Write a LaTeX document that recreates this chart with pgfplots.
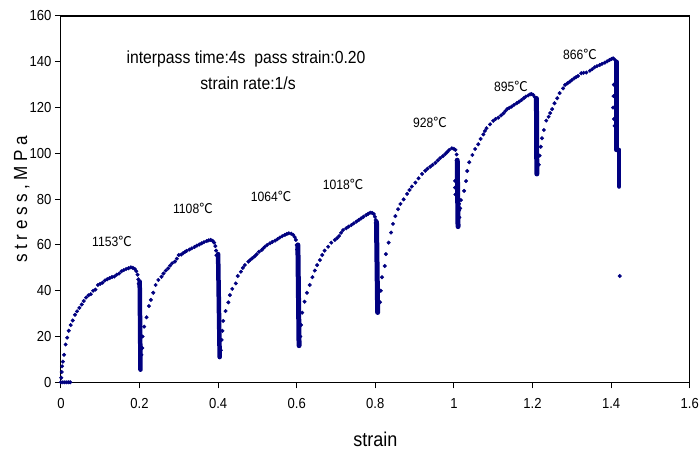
\documentclass[border=0pt]{standalone}
\usepackage{fontspec}
\setmainfont{Liberation Sans}[FakeStretch=0.9]
\newfontfamily\cjk{Noto Sans CJK SC}
\usepackage{pgfplots}
\pgfplotsset{compat=1.18}
\definecolor{navy}{RGB}{0,0,128}
\newcommand{\cel}{{\cjk ℃}}
\begin{document}
\begin{tikzpicture}
\useasboundingbox (-60.9pt,-69.7pt) rectangle (638.1pt,382.3pt);
\begin{axis}[
    scale only axis,
    width=628.8pt, height=366.3pt,
    xmin=0, xmax=1.6, ymin=0, ymax=160,
    xtick={0,0.2,...,1.6}, ytick={0,20,...,160},
    xtick pos=bottom, ytick pos=left,
    tick align=outside,
    major tick length=6pt,
    axis line style={black, line width=1.2pt},
    tick style={black, line width=1pt},
    /pgf/number format/assume math mode=true,
    ticklabel style={font=\fontsize{14.5}{16}\selectfont},
    xticklabel style={yshift=-7pt},
    xlabel={strain},
    ylabel={stress,MPa},
    every axis x label/.style={at={(axis description cs:0.5,-0.155)}, anchor=center,
        font=\fontsize{20}{22}\selectfont},
    every axis y label/.style={at={(axis description cs:-0.062,0.5)}, anchor=center, rotate=90,
        font=\fontsize{19}{22}\selectfont\addfontfeatures{LetterSpace=24}},
]

% pass 1
\addplot[only marks, mark=*, mark size=1.8pt, navy] coordinates {
(0,0) (0.005,0) (0.01,0) (0.015,0) (0.02,0) (0.024,0)
(0.001,2) (0.002,4.5) (0.003,7) (0.005,9) (0.008,12) (0.012,16.5) (0.016,19.5)
(0.02,22.5) (0.025,25) (0.03,27) (0.036,29.5) (0.041,31) (0.047,32.5) (0.053,34)
(0.058,35.5) (0.064,37) (0.07,38) (0.076,38.5) (0.082,40) (0.088,40.5) (0.094,42.5)
(0.1,43) (0.106,43.5) (0.112,44.5) (0.118,45) (0.124,45.5) (0.13,46) (0.136,46.2)
(0.142,47) (0.148,47.5) (0.154,48.5) (0.16,49) (0.166,49.5) (0.172,49.8) (0.178,50.2)
(0.183,50) (0.188,49.5) (0.192,48.5) (0.195,47) (0.197,45) (0.198,43)
};
% pass 2
\addplot[only marks, mark=*, mark size=1.8pt, navy] coordinates {
(0.205,12) (0.207,15) (0.208,20) (0.212,24.3) (0.218,28.4) (0.224,33.3) (0.229,36)
(0.235,39.1) (0.241,42.5) (0.248,44.7) (0.256,46.1) (0.261,47.5) (0.267,48.8)
(0.273,49.8) (0.278,51) (0.283,52) (0.29,52.7) (0.295,54) (0.3,55.6) (0.306,55.8)
(0.311,56.4) (0.316,57) (0.32,57.4) (0.327,58) (0.333,58.5) (0.34,59.1) (0.346,59.7)
(0.352,60.2) (0.358,60.7) (0.364,61.2) (0.371,61.7) (0.376,62) (0.381,62.2)
(0.386,61.8) (0.39,61) (0.393,59.5) (0.395,57.5) (0.396,55.5)
};
% pass 3
\addplot[only marks, mark=*, mark size=1.8pt, navy] coordinates {
(0.407,14) (0.409,18.5) (0.411,22.5) (0.413,26.8) (0.419,31.1) (0.426,34.9) (0.43,38.1)
(0.436,40.8) (0.445,43.2) (0.45,46.4) (0.458,48.3) (0.463,50) (0.468,51.2) (0.477,52.7)
(0.482,53.5) (0.487,54.2) (0.493,55) (0.498,55.9) (0.504,57) (0.511,57.8) (0.515,58.5)
(0.519,59.2) (0.525,60) (0.532,60.7) (0.538,61.3) (0.545,61.9) (0.551,62.5) (0.557,63.2)
(0.563,63.8) (0.57,64.4) (0.575,64.8) (0.58,65.1) (0.586,64.9) (0.591,64.4) (0.595,63.4)
(0.598,62.2) (0.6,60) (0.601,58)
};
% pass 4
\addplot[only marks, mark=*, mark size=1.8pt, navy] coordinates {
(0.609,20) (0.611,25) (0.614,30.4) (0.62,35.2) (0.626,39.1) (0.633,42.5) (0.64,45.9)
(0.646,48.8) (0.652,51.2) (0.659,53.4) (0.665,55.6) (0.671,57.5) (0.68,59.2) (0.688,61)
(0.697,62.2) (0.703,63) (0.708,63.9) (0.713,65.3) (0.718,66.5) (0.726,67.3) (0.732,68)
(0.739,68.7) (0.745,69.4) (0.752,70.2) (0.758,70.9) (0.764,71.6) (0.77,72.3) (0.777,73.1)
(0.782,73.6) (0.787,74.1) (0.792,74) (0.796,73.5) (0.799,72.3) (0.801,70.9)
};
% pass 5
\addplot[only marks, mark=*, mark size=1.8pt, navy] coordinates {
(0.812,35) (0.814,40) (0.817,45.9) (0.824,50.8) (0.827,56) (0.834,61) (0.84,65.4)
(0.845,69.2) (0.851,72.6) (0.858,75.6) (0.864,77.9) (0.872,79.9) (0.881,82.3) (0.887,84)
(0.893,85.5) (0.902,87.2) (0.91,89.1) (0.919,91) (0.927,92.4) (0.933,93.3) (0.94,94.2)
(0.946,95) (0.953,95.9) (0.959,96.9) (0.965,97.9) (0.972,98.8) (0.978,99.7) (0.983,100.6)
(0.988,101.5) (0.995,102.2) (1.0,102) (1.004,101.5) (1.007,99.5) (1.008,97.1)
(1.003,88) (1.003,85) (1.004,82) (1.013,75) (1.013,78)
};
% pass 6
\addplot[only marks, mark=*, mark size=1.8pt, navy] coordinates {
(1.014,72) (1.016,76) (1.018,79.6) (1.026,83.6) (1.031,87.9) (1.034,92.3) (1.039,96.1)
(1.047,99.3) (1.054,101.9) (1.062,104) (1.068,106.3) (1.075,108.3) (1.079,109.8)
(1.083,111) (1.092,112.7) (1.1,114.2) (1.106,115) (1.113,115.6) (1.12,116.6)
(1.126,117.5) (1.131,118.5) (1.136,119.4) (1.141,119.9) (1.147,120.4) (1.153,121.2)
(1.16,121.9) (1.166,122.6) (1.172,123.3) (1.178,124.1) (1.183,124.8) (1.189,125.3)
(1.194,125.8) (1.198,125.9) (1.202,125.5) (1.206,124.5) (1.209,123.3)
};
% pass 7
\addplot[only marks, mark=*, mark size=1.8pt, navy] coordinates {
(1.216,95) (1.218,99) (1.221,102.9) (1.224,106.6) (1.229,110.2) (1.235,114.3) (1.241,116)
(1.245,117.6) (1.25,119.3) (1.256,121.9) (1.263,124.1) (1.269,126.3) (1.278,128.4)
(1.283,129.9) (1.289,130.6) (1.295,131.3) (1.3,132) (1.306,132.8) (1.311,133.3)
(1.316,133.8) (1.324,135) (1.33,135.2) (1.337,135.3) (1.346,136.1) (1.352,136.8)
(1.358,137.6) (1.364,138.1) (1.371,138.6) (1.377,139.1) (1.384,139.6) (1.39,140.2)
(1.396,140.8) (1.401,141.2) (1.405,141.5) (1.409,141) (1.413,140.1)
(1.407,130) (1.406,125) (1.405,120) (1.407,115) (1.409,112) (1.422,46.4)
};

% unloading columns (dense points)
\addplot[navy, line width=4.5pt, line cap=round] coordinates {(0.2005,44) (0.2025,5.5)};
\addplot[navy, line width=4.5pt, line cap=round] coordinates {(0.4,56) (0.404,11)};
\addplot[navy, line width=5pt, line cap=round] coordinates {(0.603,60) (0.606,16)};
\addplot[navy, line width=5pt, line cap=round] coordinates {(0.803,70) (0.806,30.5)};
\addplot[navy, line width=5pt, line cap=round] coordinates {(1.0085,97) (1.0105,68)};
\addplot[navy, line width=5pt, line cap=round] coordinates {(1.21,124) (1.211,91)};
\addplot[navy, line width=4.5pt, line cap=round] coordinates {(1.4135,140) (1.4135,101.5)};
\addplot[navy, line width=4.5pt, line cap=round] coordinates {(1.4205,101.5) (1.4205,85.5)};

\node[font=\fontsize{17.5}{20}\selectfont] at (axis cs:0.471,141.2) {interpass time:4s\ \ pass strain:0.20};
\node[font=\fontsize{17.5}{20}\selectfont] at (axis cs:0.476,130.8) {strain rate:1/s};

\begin{scope}[every node/.style={font=\fontsize{13.5}{16}\selectfont}]
\node at (axis cs:0.130,61.7) {1153\cel};
\node at (axis cs:0.336,76.1) {1108\cel};
\node at (axis cs:0.535,81.4) {1064\cel};
\node at (axis cs:0.718,86.6) {1018\cel};
\node at (axis cs:0.939,113.3) {928\cel};
\node at (axis cs:1.145,129.4) {895\cel};
\node at (axis cs:1.321,143) {866\cel};
\end{scope}
\end{axis}
\end{tikzpicture}
\end{document}
